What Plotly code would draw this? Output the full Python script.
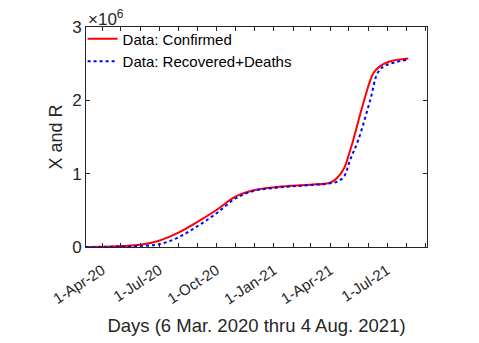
import plotly.graph_objects as go

# Confirmed cases
conf_dates = ["2020-03-06", "2020-04-01", "2020-05-01", "2020-06-01", "2020-07-01",
              "2020-08-01", "2020-09-01", "2020-10-01", "2020-11-01", "2020-12-01",
              "2021-01-01", "2021-02-01", "2021-03-01", "2021-04-01", "2021-04-12",
              "2021-04-23", "2021-05-03", "2021-05-08", "2021-05-24", "2021-06-09",
              "2021-06-19", "2021-07-05", "2021-08-04"]
conf_vals = [0, 2000, 12000, 30000, 86000,
             195000, 345000, 505000, 690000, 777000,
             814000, 836000, 850000, 877000, 940000,
             1070000, 1320000, 1460000, 1960000, 2370000,
             2460000, 2530000, 2570000]

# Recovered + deaths
rec_dates = ["2020-03-06", "2020-04-01", "2020-05-01", "2020-06-01", "2020-07-01",
             "2020-08-01", "2020-09-01", "2020-10-01", "2020-11-01", "2020-12-01",
             "2021-01-01", "2021-02-01", "2021-03-01", "2021-04-01", "2021-04-12",
             "2021-04-23", "2021-05-03", "2021-05-16", "2021-06-04", "2021-06-17",
             "2021-06-30", "2021-08-04"]
rec_vals = [0, 500, 4000, 14000, 37000,
            132000, 286000, 460000, 665000, 768000,
            805000, 828000, 845000, 868000, 890000,
            959000, 1190000, 1460000, 2000000, 2390000,
            2480000, 2555000]

y_ticks = [0, 1e6, 2e6, 3e6]
y_labels = ["0", "1", "2", "3"]

axis_col = "#262626"
font = "Liberation Sans, Arial, sans-serif"

fig = go.Figure()
fig.add_trace(go.Scatter(x=conf_dates, y=conf_vals, mode="lines", name="Data: Confirmed",
                         line=dict(color="#ff0000", width=2, shape="spline")))
fig.add_trace(go.Scatter(x=rec_dates, y=rec_vals, mode="lines", name="Data: Recovered+Deaths",
                         line=dict(color="#0000ff", width=2, dash="dot", shape="spline")))

fig.update_xaxes(
    type="date", range=["2020-03-06", "2021-09-03"], automargin=False,
    dtick="M3", tick0="2020-01-01", tickformat="%-d-%b-%y", tickangle=-33,
    ticks="inside", ticklen=4, tickcolor=axis_col, tickfont=dict(size=15, color=axis_col),
    ticklabelstandoff=8,
    minor=dict(dtick="M1", ticks="inside", ticklen=4, tickcolor=axis_col),
    showline=True, linecolor=axis_col, linewidth=1, mirror="ticks",
    showgrid=False, zeroline=False,
    title=dict(text="Days (6 Mar. 2020 thru 4 Aug. 2021)", font=dict(size=18.5, color=axis_col),
               standoff=12),
)
fig.update_yaxes(
    range=[0, 3e6], tickvals=y_ticks, ticktext=y_labels, automargin=False,
    ticks="inside", ticklen=4, tickcolor=axis_col, tickfont=dict(size=17, color=axis_col),
    showline=True, linecolor=axis_col, linewidth=1, mirror="ticks",
    showgrid=False, zeroline=False,
    title=dict(text="X and R", font=dict(size=18, color=axis_col), standoff=4),
)

fig.add_annotation(text="×10<sup>6</sup>", xref="paper", yref="paper", x=0, y=1,
                   xanchor="left", yanchor="bottom", showarrow=False,
                   font=dict(size=17, color=axis_col), yshift=-4, xshift=0)

# page body adds 8px on left/top, so margins are trimmed by that
fig.update_layout(
    width=479, height=343,
    margin=dict(l=78, r=60, t=19, b=104),
    paper_bgcolor="white", plot_bgcolor="white",
    font=dict(family=font, color=axis_col),
    legend=dict(x=-0.01, y=1.02, xanchor="left", yanchor="top", bgcolor="rgba(0,0,0,0)",
                font=dict(size=15, color="#000000"), tracegroupgap=0, itemwidth=30),
)

fig.write_html("out.html")
